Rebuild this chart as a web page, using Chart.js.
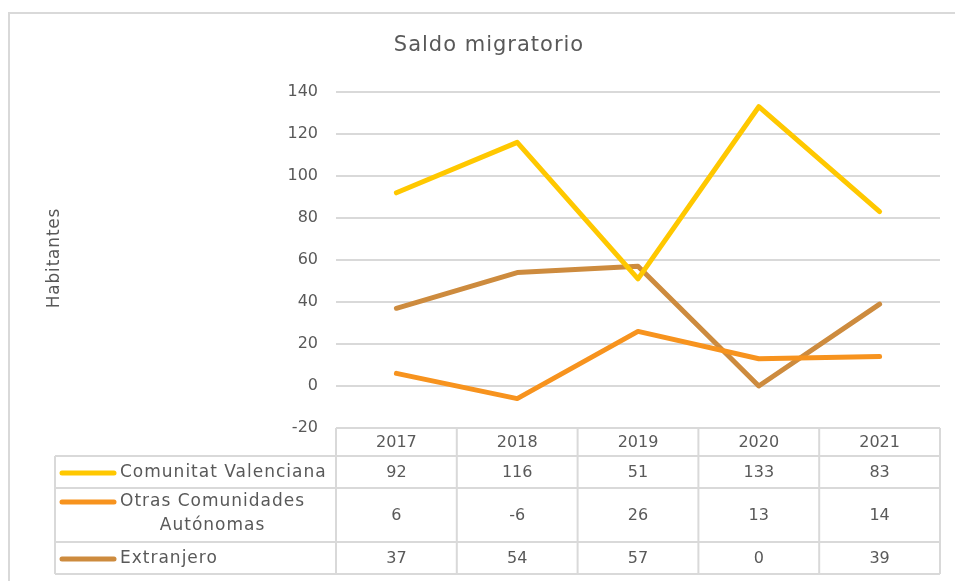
<!DOCTYPE html>
<html><head><meta charset="utf-8">
<script src="https://cdn.jsdelivr.net/npm/chart.js@4/dist/chart.umd.min.js"></script>
<style>html,body{margin:0;padding:0;background:#fff;}#wrap{width:955px;height:581px;position:relative;}</style>
</head><body><div id="wrap"><canvas id="c" width="955" height="581"></canvas></div>
<script>
const categories = ["2017","2018","2019","2020","2021"];
const seriesNames = ["Comunitat Valenciana","Otras Comunidades Autónomas","Extranjero"];
const comunitatValenciana = [92,116,51,133,83];
const otrasComunidades = [6,-6,26,13,14];
const extranjero = [37,54,57,0,39];
const colors = ["#FFC800","#F7931E","#CD8B3E"];
const FONT = "'DejaVu Sans', sans-serif";
const TXT = "#595959";
const GRID = "#D9D9D9";

const tablePlugin = {
  id:'tablePlugin',
  afterDraw(chart){
    const ctx = chart.ctx, xs = chart.scales.x, ca = chart.chartArea;
    const n = categories.length;
    const colW = (ca.right-ca.left)/n;
    const rowsY = [ca.bottom, 456, 488, 542, 574];
    ctx.save();
    // outer border
    ctx.strokeStyle = GRID; ctx.lineWidth = 2;
    ctx.beginPath(); ctx.moveTo(9,600); ctx.lineTo(9,13); ctx.lineTo(960,13); ctx.stroke();
    // title
    ctx.fillStyle = TXT; ctx.textAlign='center'; ctx.textBaseline='middle';
    ctx.font = "21px "+FONT; ctx.letterSpacing = '1px';
    ctx.fillText("Saldo migratorio", 489, 46);
    // y title
    ctx.save(); ctx.translate(55,258); ctx.rotate(-Math.PI/2);
    ctx.font = "17px "+FONT; ctx.letterSpacing = '0.8px'; ctx.fillText("Habitantes",0,0); ctx.restore();
    ctx.letterSpacing = '0px';
    // table grid
    ctx.lineWidth = 2; ctx.strokeStyle = GRID;
    ctx.beginPath();
    ctx.moveTo(ca.left, rowsY[0]); ctx.lineTo(ca.right, rowsY[0]);
    for (let r=1;r<rowsY.length;r++){ ctx.moveTo(55, rowsY[r]); ctx.lineTo(ca.right, rowsY[r]); }
    for (let i=0;i<=n;i++){ const x = ca.left + i*colW; ctx.moveTo(x, rowsY[0]); ctx.lineTo(x, rowsY[4]); }
    ctx.moveTo(55, rowsY[1]); ctx.lineTo(55, rowsY[4]);
    ctx.stroke();
    // header labels
    ctx.font = "16px "+FONT; ctx.fillStyle = TXT; ctx.textAlign='center';
    categories.forEach((c,i)=>{ ctx.fillText(c, xs.getPixelForValue(i), (rowsY[0]+rowsY[1])/2+1); });
    const data = [comunitatValenciana, otrasComunidades, extranjero];
    data.forEach((arr,r)=>{
      const cy = (rowsY[r+1]+rowsY[r+2])/2+1;
      ctx.font = "16px "+FONT; ctx.letterSpacing = '0px';
      arr.forEach((v,i)=>{ ctx.textAlign='center'; ctx.fillText(String(v), xs.getPixelForValue(i), cy); });
      // legend key
      const ky = r===1 ? 502 : cy;
      ctx.strokeStyle = colors[r]; ctx.lineWidth = 5; ctx.lineCap='round';
      ctx.beginPath(); ctx.moveTo(62, ky); ctx.lineTo(114, ky); ctx.stroke();
      ctx.font = "17px "+FONT; ctx.letterSpacing = '1px';
      if (r===1){
        const parts = ["Otras Comunidades","Autónomas"];
        ctx.textAlign='left'; ctx.fillText(parts[0], 120, 502);
        const w = ctx.measureText(parts[0]).width;
        ctx.textAlign='center'; ctx.fillText(parts[1], 120+w/2, 526);
      } else {
        ctx.textAlign='left'; ctx.fillText(seriesNames[r], 120, cy);
      }
    });
    ctx.restore();
  }
};

new Chart(document.getElementById('c'), {
  type:'line',
  data:{
    labels: categories,
    datasets:[
      {label:seriesNames[0], data:comunitatValenciana, borderColor:colors[0], backgroundColor:colors[0]},
      {label:seriesNames[1], data:otrasComunidades, borderColor:colors[1], backgroundColor:colors[1]},
      {label:seriesNames[2], data:extranjero, borderColor:colors[2], backgroundColor:colors[2]}
    ]
  },
  options:{
    responsive:false, animation:false, devicePixelRatio:1,
    layout:{padding:{left:0,top:92,right:15,bottom:153}},
    elements:{line:{borderWidth:5,tension:0,borderCapStyle:'round',borderJoinStyle:'round'},point:{radius:0,hoverRadius:0}},
    plugins:{legend:{display:false},title:{display:false},tooltip:{enabled:false}},
    scales:{
      x:{display:false, offset:true},
      y:{min:-20,max:140,
         ticks:{stepSize:20,color:TXT,font:{family:FONT,size:16},padding:18},
         grid:{color:GRID,lineWidth:2,drawTicks:false},
         border:{display:false},
         afterFit(s){ s.width = 336; }
      }
    }
  },
  plugins:[tablePlugin]
});
</script></body></html>
